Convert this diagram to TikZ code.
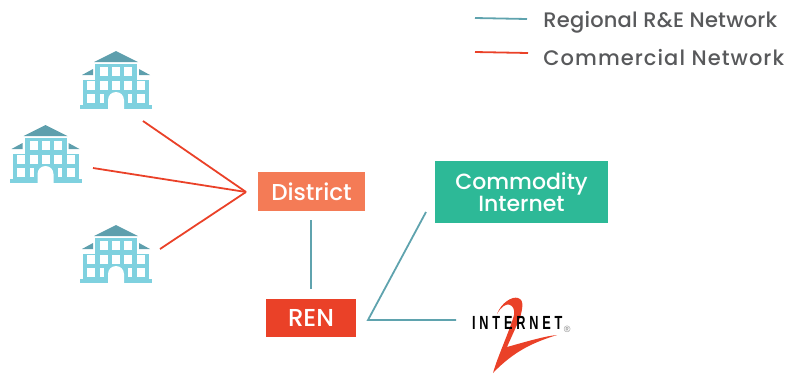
\documentclass[tikz,border=0pt]{standalone}
\usepackage{fontspec}
\setmainfont{Poppins}
\newfontfamily\medfont{Poppins Medium}
\newfontfamily\logofont[LetterSpace=30]{Liberation Sans Bold}
\newfontfamily\regfont{Liberation Sans}
\definecolor{schoolblue}{HTML}{7FD1DF}
\definecolor{schoolroof}{HTML}{5E9FAD}
\definecolor{rennet}{HTML}{5FA3AE}
\definecolor{commnet}{HTML}{EA4128}
\definecolor{legendtext}{HTML}{58595B}
\definecolor{districtfill}{HTML}{F47B56}
\definecolor{commodityfill}{HTML}{2DB997}
\tikzset{
    school/.pic={
        \fill[schoolblue] (-36,0) rectangle (36,-4);
        \fill[schoolblue] (-33,-4) rectangle (33,-29);
        \fill[schoolblue] (-21,-29) rectangle (21,-45);
        \fill[schoolroof] (-22,-47) -- (0,-58) -- (22,-47) -- cycle;
        \fill[schoolroof] (-34,-34) -- (-23,-40) -- (-23,-34) -- cycle;
        \fill[schoolroof] (34,-34) -- (23,-40) -- (23,-34) -- cycle;
        \foreach \wx in {-12,0,12}
            \fill[white] (\wx-4,-42) rectangle (\wx+4,-33);
        \foreach \wx in {-25,-12,0,12,25}
            \fill[white] (\wx-4,-28) rectangle (\wx+4,-19);
        \foreach \wx in {-25,25}
            \fill[white] (\wx-4,-15) rectangle (\wx+4,-6);
        \fill[white] (-16,-15) rectangle (-12,-6);
        \fill[white] (12,-15) rectangle (16,-6);
        \fill[white] (-8,0) -- (-8,-9) arc[start angle=180, end angle=360, radius=8] -- (8,0) -- cycle;
    }
}
\begin{document}
\begin{tikzpicture}[x=1pt,y=-1pt,
                    line width=1.8pt,
                    ]
    \tikzstyle{box}=[rectangle,inner sep=0pt,text=white,align=center]
    \tikzstyle{district}=[box,fill=districtfill,minimum width=107pt,minimum height=39pt,font=\medfont\fontsize{23}{24}\selectfont]
    \tikzstyle{ren}=[box,fill=commnet,minimum width=90pt,minimum height=38pt,font=\medfont\fontsize{24.5}{25}\selectfont]
    \tikzstyle{commodity}=[box,fill=commodityfill,minimum width=173pt,minimum height=62pt,font=\medfont\fontsize{22}{22}\selectfont]
    \tikzstyle{legend}=[anchor=west,inner sep=0pt,text=legendtext,font=\medfont\fontsize{21}{23}\selectfont]
    \tikzstyle{regional}=[draw=rennet]
    \tikzstyle{commercial}=[draw=commnet]

    \useasboundingbox (0,0) rectangle (809,373);

    \pic at (116,109) {school};
    \pic at (45.5,183) {school};
    \pic at (116,283) {school};

    \node[district] (district) at (311.5,191.5) {District};
    \node[ren] (ren) at (311,318) {REN};
    \node[commodity] (commodity) at (521.5,192) {Commodity\\Internet};

    % logo
    \fill[commnet] (497,314) .. controls (501,303) and (512,296) .. (518,298)
        .. controls (525,300) and (522,310) .. (520,318)
        -- (507,347) .. controls (525,342) and (545,336) .. (557,335)
        .. controls (535,342) and (515,350) .. (493,373)
        .. controls (497,358) and (510,330) .. (514,315)
        .. controls (516,305) and (506,298) .. (497,314) -- cycle;
    \node[inner sep=0pt,anchor=west,xscale=0.67,transform shape,font=\logofont\fontsize{19}{20}\selectfont] (internet) at (471.5,323)
        {INTERNET};
    \node[inner sep=0pt,anchor=west,text=gray,font=\regfont\fontsize{9}{10}\selectfont] (reg) at (563,329) {®};

    \coordinate (school1) at (143,121);
    \coordinate (school2) at (93,168);
    \coordinate (school3) at (160,249);
    \coordinate (hub) at (246,192);
    \coordinate (ren top) at (311,220);
    \coordinate (ren up) at (311,289);
    \coordinate (ren out) at (368,320);
    \coordinate (comm in) at (426,212);
    \coordinate (internet in) at (456,320);

    \path[commercial] (school1) edge (hub);
    \path[commercial] (school2) edge (hub);
    \path[commercial] (school3) edge (hub);
    \path[regional] (ren top) edge (ren up);
    \path[regional] (comm in) -- (ren out) -- (internet in);

    % legend
    \coordinate (key1a) at (475,18);
    \coordinate (key1b) at (527,19);
    \coordinate (key2a) at (475,52);
    \coordinate (key2b) at (528,53);
    \path[regional] (key1a) edge (key1b);
    \path[commercial] (key2a) edge (key2b);
    \node[legend] (regional label) at (542.5,22) {\addfontfeature{LetterSpace=1}Regional R\&E Network};
    \node[legend] (commercial label) at (542.5,58) {\addfontfeature{LetterSpace=5}Commercial Network};
\end{tikzpicture}
\end{document}
